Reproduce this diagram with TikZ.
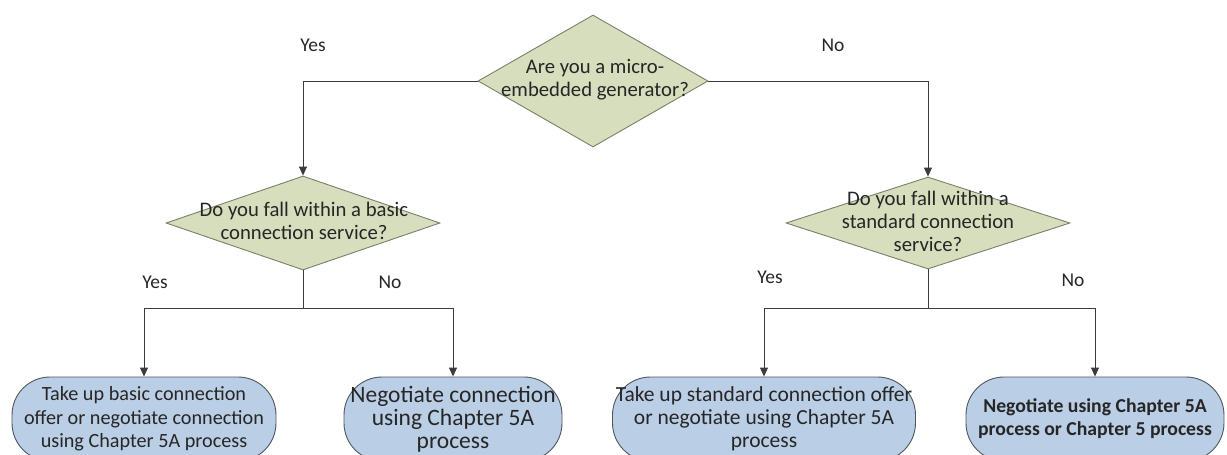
\documentclass[tikz,border=0pt]{standalone}
\usepackage{fontspec}
\setmainfont{Carlito}
\usetikzlibrary{shapes.geometric,arrows.meta}
\definecolor{dfill}{RGB}{215,222,189}
\definecolor{dline}{RGB}{120,128,105}
\definecolor{tfill}{RGB}{186,206,230}
\definecolor{tline}{RGB}{80,86,96}
\definecolor{cline}{RGB}{60,60,60}
\tikzset{
  dia/.style={shape=diamond,draw=dline,fill=dfill,inner sep=0pt,line width=0.9pt},
  dtext/.style={align=center,font=\fontsize{20.7}{23}\selectfont,text=black!85},
  term/.style={draw=tline,fill=tfill,rounded corners=38pt,line width=0.9pt,
     align=center,font=\fontsize{19.5}{23}\selectfont,inner sep=0pt,text=black!85},
  lab/.style={font=\fontsize{19.5}{23}\selectfont,text=black!85},
  conn/.style={draw=cline,line width=0.9pt},
  arr/.style={conn,-{Triangle[length=9pt,width=8pt]}}
}
\begin{document}
\begin{tikzpicture}[x=1pt,y=-1pt]
\useasboundingbox (0,0) rectangle (1227,455);
\clip (0,0) rectangle (1227,455);
% decisions
\node[dia,minimum width=230pt,minimum height=132pt] (d1) at (593,81) {};
\node[dtext] (d1t) at (595,80) {Are you a micro-\\embedded generator?};
\node[dia,minimum width=274pt,minimum height=94pt] (d2) at (303,223) {};
\node[dtext] (d2t) at (304,221) {Do you fall within a basic\\connection service?};
\node[dia,minimum width=284pt,minimum height=92pt] (d3) at (928,223) {};
\node[dtext] (d3t) at (928,221) {Do you fall within a\\standard connection\\service?};
% terminals
\node[term,minimum width=264pt,minimum height=84pt,font=\fontsize{20.2}{23.5}\selectfont] (t1) at (144,419) {Take up basic connection\\offer or negotiate connection\\using Chapter 5A process};
\node[term,minimum width=218pt,minimum height=84pt,font=\fontsize{23.5}{23}\selectfont] (t2) at (453,419) {Negotiate connection\\using Chapter 5A\\process};
\node[term,minimum width=303pt,minimum height=84pt,font=\fontsize{21.5}{23}\selectfont] (t3) at (764,419) {Take up standard connection offer\\or negotiate using Chapter 5A\\process};
\node[term,minimum width=258pt,minimum height=84pt,font=\fontsize{19.7}{23}\selectfont\bfseries] (t4) at (1095,419) {Negotiate using Chapter 5A\\process or Chapter 5 process};
% junctions
\coordinate (j1) at (303,308);
\coordinate (j2) at (928,308);
% connectors
\draw[arr] (d1.west) -| (d2.north);
\draw[arr] (d1.east) -| (d3.north);
\draw[conn] (d2.south) -- (j1);
\draw[arr] (j1) -| (t1.north);
\draw[arr] (j1) -| (t2.north);
\draw[conn] (d3.south) -- (j2);
\draw[arr] (j2) -| (t3.north);
\draw[arr] (j2) -| (t4.north);
% labels
\node[lab] (y1) at (313,45) {Yes};
\node[lab] (n1) at (833,45) {No};
\node[lab] (y2) at (155,282) {Yes};
\node[lab] (n2) at (390,282) {No};
\node[lab] (y3) at (770,277) {Yes};
\node[lab] (n3) at (1073,280) {No};
\end{tikzpicture}
\end{document}
